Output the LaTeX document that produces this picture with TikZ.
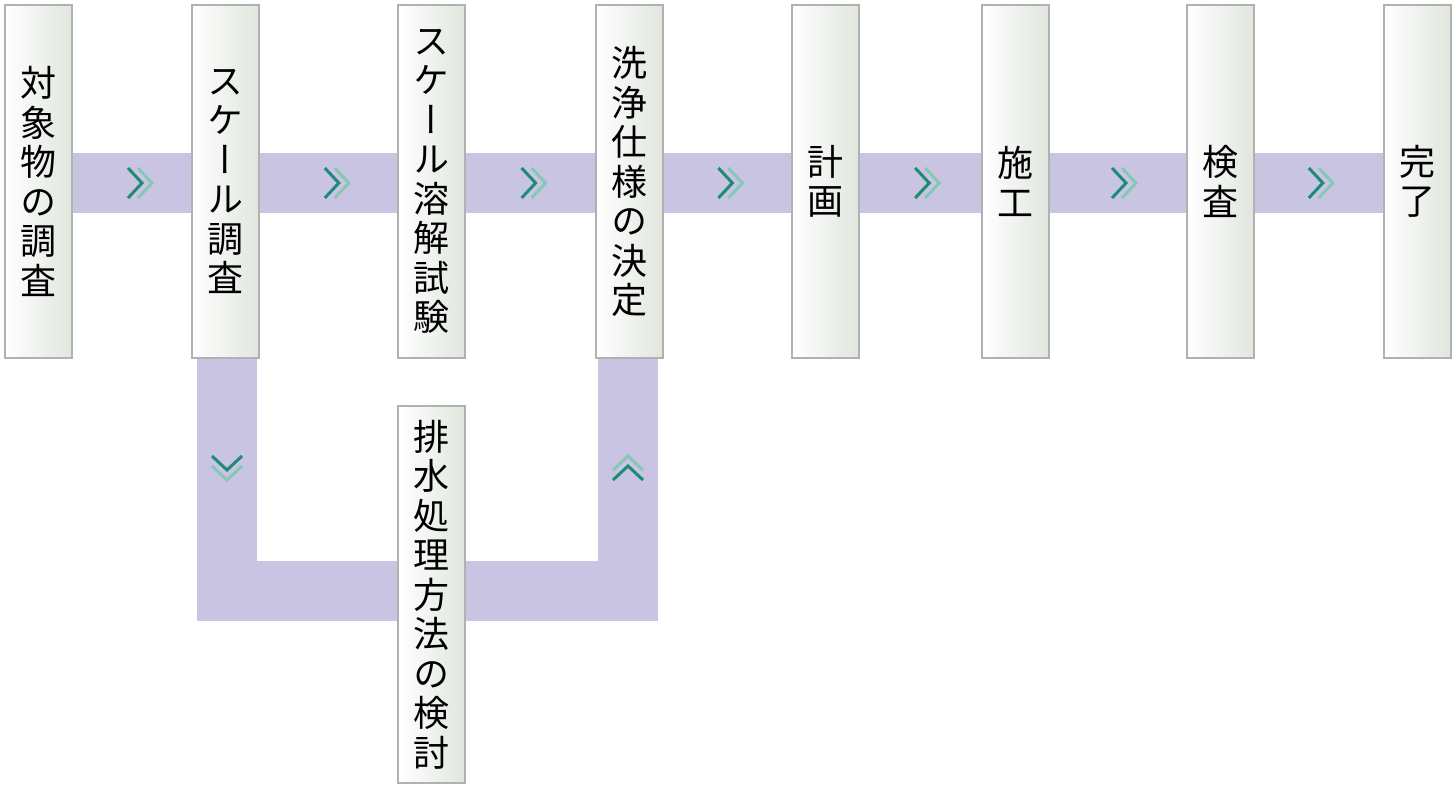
\documentclass[tikz,border=0pt]{standalone}
\usepackage{fontspec}
\newfontfamily\jpfont[RawFeature={+vert}]{Noto Sans CJK JP}
\usetikzlibrary{backgrounds}

\definecolor{bandpurple}{RGB}{201,196,225}
\definecolor{chevdark}{RGB}{30,138,120}
\definecolor{chevlight}{RGB}{133,200,181}
\definecolor{boxgray}{RGB}{224,230,222}
\definecolor{boxline}{RGB}{175,178,176}

\begin{document}
\begin{tikzpicture}[x=1pt, y=-1pt,
    stepbox/.style={draw=boxline, line width=1.2pt, left color=white, right color=boxgray,
        minimum width=67pt, minimum height=353pt, inner sep=0pt, align=center,
        font=\jpfont\fontsize{36}{39.5}\selectfont,
        preaction={draw=blue!5, line width=2.6pt}},
    band/.style={draw=bandpurple, line width=60pt},
    chev/.pic={
        \draw[chevdark, line width=3pt] (-12,-15) -- (2,0) -- (-12,15);
        \draw[chevlight, line width=3pt] (-2,-15) -- (12,0) -- (-2,15);
    }]
    \useasboundingbox (0,0) rectangle (1455,789);

    % upper row
    \node[stepbox] (b1) at (38.5,181.5) {対\\象\\物\\の\\調\\査};
    \node[stepbox] (b2) at (225.5,181.5) {ス\\ケ\\ー\\ル\\調\\査};
    \node[stepbox] (b3) at (431.5,181.5) {ス\\ケ\\ー\\ル\\溶\\解\\試\\験};
    \node[stepbox] (b4) at (629.5,181.5) {洗\\浄\\仕\\様\\の\\決\\定};
    \node[stepbox] (b5) at (825.5,181.5) {計\\画};
    \node[stepbox] (b6) at (1015.5,181.5) {施\\工};
    \node[stepbox] (b7) at (1220.5,181.5) {検\\査};
    \node[stepbox] (b8) at (1417.5,181.5) {完\\了};

    % side branch
    \node[stepbox, minimum height=377pt] (b9) at (431.5,594.5) {排\\水\\処\\理\\方\\法\\の\\検\\討};
    \coordinate (bend) at (431.5,590.5);

    \begin{scope}[on background layer]
        \draw[band] ([yshift=-1.5]b1.east) -- ([yshift=-1.5]b8.west);
        \draw[band] ([xshift=1.5]b2.south) |- (bend) -| ([xshift=-1.5]b4.south);
    \end{scope}

    \foreach \i in {0,...,6}
        \pic at ({140+196.8*\i},183) {chev};
    \pic[rotate=-90] at (227,468) {chev};
    \pic[rotate=90] at (628,468) {chev};
\end{tikzpicture}
\end{document}
